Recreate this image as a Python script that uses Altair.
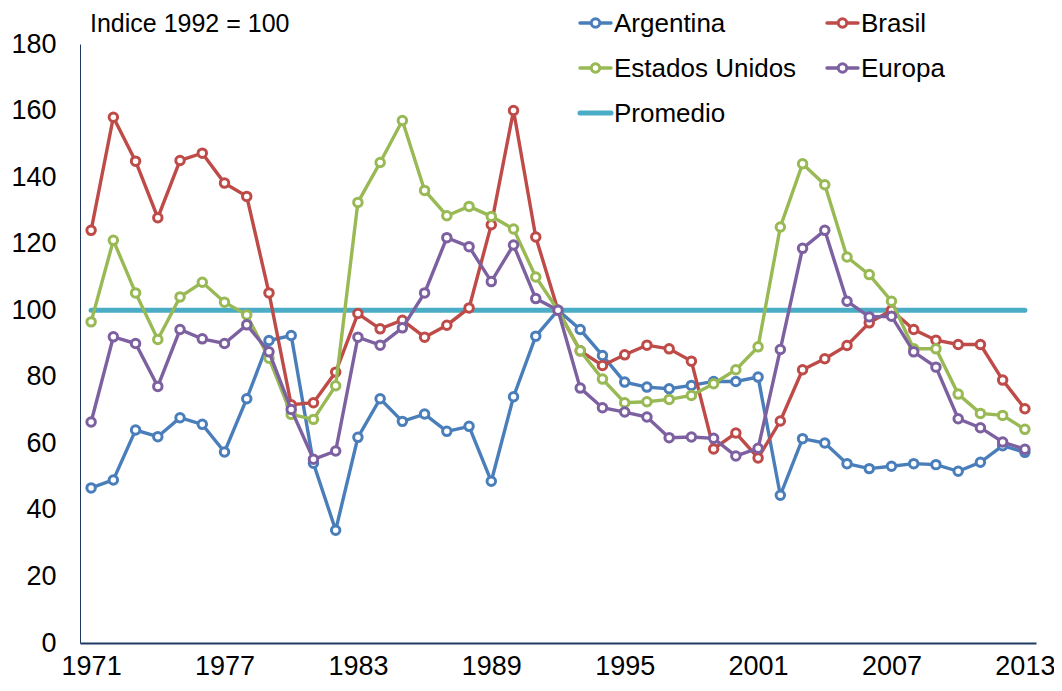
import altair as alt
import pandas as pd

years = list(range(1971, 2014))

argentina = [46.6, 49.0, 64.0, 62.0, 67.7, 65.7, 57.4, 73.4, 90.9, 92.4,
             54.0, 33.9, 61.8, 73.4, 66.6, 68.8, 63.6, 65.1, 48.6, 74.0,
             92.2, 100.0, 94.2, 86.4, 78.4, 76.9, 76.4, 77.4, 78.6, 78.6,
             79.9, 44.4, 61.4, 60.1, 53.9, 52.4, 53.1, 53.9, 53.6, 51.6,
             54.3, 59.3, 57.3]
brasil = [124.0, 158.0, 144.8, 127.8, 145.0, 147.2, 138.2, 134.2, 105.2, 71.6,
          72.2, 81.4, 99.0, 94.4, 97.0, 91.9, 95.5, 100.7, 125.7, 160.0,
          122.0, 100.0, 87.8, 83.4, 86.6, 89.5, 88.4, 84.7, 58.3, 63.1,
          55.6, 66.7, 82.1, 85.4, 89.4, 96.2, 100.0, 94.2, 91.0, 89.7,
          89.7, 79.0, 70.4]
estados_unidos = [96.5, 121.0, 105.2, 91.2, 104.0, 108.4, 102.4, 98.6, 85.6, 68.7,
                  67.2, 77.3, 132.4, 144.4, 157.0, 136.0, 128.4, 131.2, 128.2, 124.4,
                  110.0, 100.0, 87.8, 79.3, 72.2, 72.5, 73.2, 74.4, 77.9, 82.1,
                  89.0, 125.0, 144.0, 137.7, 116.0, 110.7, 102.7, 88.4, 88.4, 74.8,
                  69.0, 68.4, 64.2]
europa = [66.4, 92.0, 90.0, 77.1, 94.2, 91.4, 90.0, 95.6, 87.5, 70.2,
          55.2, 57.7, 91.9, 89.5, 94.7, 105.2, 121.8, 119.1, 108.6, 119.6,
          103.5, 100.0, 76.6, 70.7, 69.4, 67.9, 61.7, 61.9, 61.5, 56.2,
          58.5, 88.2, 118.6, 124.0, 102.7, 98.0, 98.2, 87.5, 82.9, 67.4,
          64.7, 60.4, 58.2]
promedio = [100.0] * len(years)

series_names = ["Argentina", "Brasil", "Estados Unidos", "Europa", "Promedio"]
series_values = [argentina, brasil, estados_unidos, europa, promedio]
series_colors = ["#4A7EBB", "#BE4B48", "#98B954", "#7D60A0", "#4BACC6"]

x_ticks = [1971, 1977, 1983, 1989, 1995, 2001, 2007, 2013]
y_ticks = [0, 20, 40, 60, 80, 100, 120, 140, 160, 180]
title_text = "Indice 1992 = 100"

rows = []
for name, vals in zip(series_names, series_values):
    for yr, v in zip(years, vals):
        rows.append({"serie": name, "year": yr, "value": v})
df = pd.DataFrame(rows)

FONT = "Liberation Sans"
AXIS_COLOR = "#1F3864"
MARK_SIZE = 72
MARK_STROKE = 3

x_enc = alt.X("year:Q",
              scale=alt.Scale(domain=[1970.5, 2013.5], nice=False, zero=False),
              axis=alt.Axis(values=x_ticks, format="d", title=None, ticks=False,
                            grid=False, labelPadding=10, labelFlush=False,
                            labelOverlap=False, domainColor=AXIS_COLOR,
                            domainWidth=2))
y_enc = alt.Y("value:Q",
              scale=alt.Scale(domain=[0, 180], nice=False),
              axis=alt.Axis(values=y_ticks, title=None, ticks=False, grid=False,
                            labelPadding=24, labelOverlap=False,
                            domainColor=AXIS_COLOR, domainWidth=1))

base = alt.Chart(df)
layers = []

# Promedio drawn first (beneath)
layers.append(
    base.transform_filter(alt.datum.serie == "Promedio")
    .mark_line(color=series_colors[4], strokeWidth=5, strokeCap="round")
    .encode(x=x_enc, y=y_enc)
)

for name, color in zip(series_names[:4], series_colors[:4]):
    sub = base.transform_filter(alt.datum.serie == name)
    layers.append(sub.mark_line(color=color, strokeWidth=3.4).encode(x=x_enc, y=y_enc))
    layers.append(sub.mark_point(shape="circle", size=MARK_SIZE, filled=False, fill="white",
                                 fillOpacity=1, stroke=color, strokeWidth=MARK_STROKE,
                                 opacity=1).encode(x=x_enc, y=y_enc))

# Legend (manual, two columns)
one = alt.Data(values=[{"k": 1}])
for i, (name, color) in enumerate(zip(series_names, series_colors)):
    col, row = i % 2, i // 2
    x0 = 500 + col * 247
    yc = -21 + row * 45
    sw = 5 if name == "Promedio" else 3.4
    layers.append(alt.Chart(one).mark_rule(color=color, strokeWidth=sw, strokeCap="round")
                  .encode(x=alt.value(x0), x2=alt.value(x0 + 31), y=alt.value(yc)))
    if name != "Promedio":
        layers.append(alt.Chart(one).mark_point(shape="circle", size=MARK_SIZE, filled=False,
                                                fill="white", fillOpacity=1, stroke=color,
                                                strokeWidth=MARK_STROKE, opacity=1)
                      .encode(x=alt.value(x0 + 15.5), y=alt.value(yc)))
    layers.append(alt.Chart(one).mark_text(align="left", baseline="middle", font=FONT,
                                           fontSize=26, color="black", text=name)
                  .encode(x=alt.value(x0 + 34), y=alt.value(yc + 1)))

# Title text (cut at the top in the original; kept visible here, beside the axis)
layers.append(alt.Chart(one).mark_text(align="left", baseline="alphabetic", font=FONT,
                                       fontSize=25, color="black", text=title_text)
              .encode(x=alt.value(10), y=alt.value(-12)))

chart = alt.layer(*layers).properties(
    width=956, height=599,
    autosize=alt.AutoSizeParams(type="none"),
    padding={"left": 72, "top": 36, "right": 18, "bottom": 40},
).configure_view(stroke=None).configure_axis(
    labelFont=FONT, labelFontSize=27, labelColor="black"
)

chart.save("out.html", embed_options={"renderer": "svg", "actions": False})
